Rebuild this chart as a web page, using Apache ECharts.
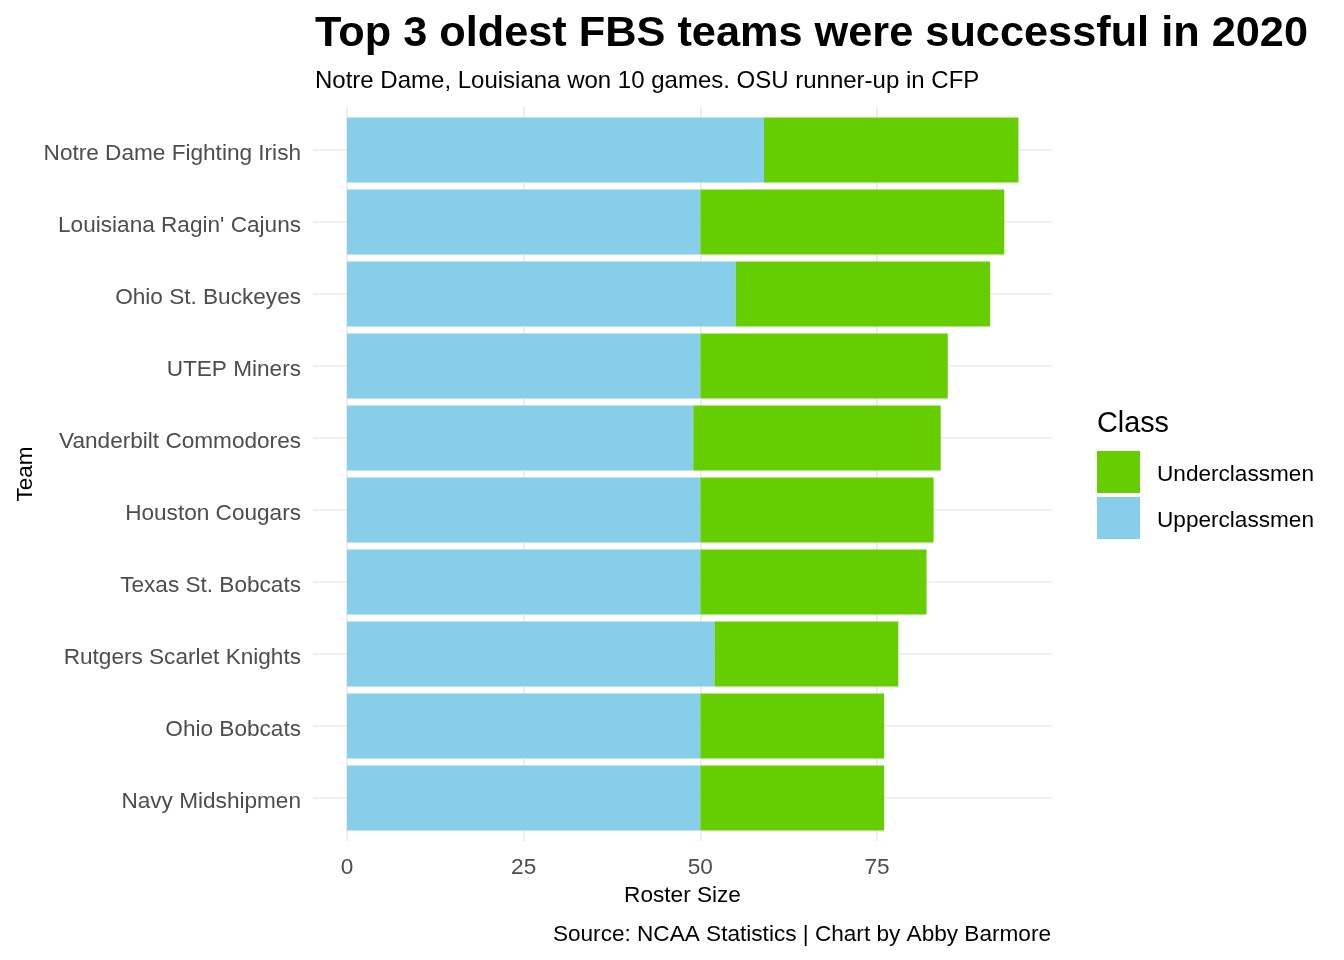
<!DOCTYPE html>
<html>
<head>
<meta charset="utf-8">
<script src="https://cdn.jsdelivr.net/npm/echarts@6/dist/echarts.min.js"></script>
<style>
html,body{margin:0;padding:0;background:#fff;}
#chart{width:1344px;height:960px;}
</style>
</head>
<body>
<div id="chart"></div>
<script>
const teams = [
  "Notre Dame Fighting Irish",
  "Louisiana Ragin' Cajuns",
  "Ohio St. Buckeyes",
  "UTEP Miners",
  "Vanderbilt Commodores",
  "Houston Cougars",
  "Texas St. Bobcats",
  "Rutgers Scarlet Knights",
  "Ohio Bobcats",
  "Navy Midshipmen"
];
const upperclassmen = [59, 50, 55, 50, 49, 50, 50, 52, 50, 50];
const underclassmen = [36, 43, 36, 35, 35, 33, 32, 26, 26, 26];
const xTicks = [0, 25, 50, 75];

const FONT = "Liberation Sans, Arial, sans-serif";
const GRID_COLOR = "#EBEBEB";
const FS = 22.6;
const chart = echarts.init(document.getElementById('chart'));

const option = {
  backgroundColor: '#ffffff',
  animation: false,
  textStyle: { fontFamily: FONT },
  title: [
    { text: 'Top 3 oldest FBS teams were successful in 2020', left: 315, top: 13, padding: 0,
      textStyle: { fontFamily: FONT, fontSize: 43.3, fontWeight: 'bold', color: '#000' } },
    { text: 'Notre Dame, Louisiana won 10 games. OSU runner-up in CFP', left: 315, top: 69, padding: 0,
      textStyle: { fontFamily: FONT, fontSize: 24, fontWeight: 'normal', color: '#000' } },
    { text: 'Source: NCAA Statistics | Chart by Abby Barmore', right: 293, top: 923, padding: 0,
      textStyle: { fontFamily: FONT, fontSize: FS, fontWeight: 'normal', color: '#000' } },
    { text: 'Class', left: 1097, top: 410, padding: 0,
      textStyle: { fontFamily: FONT, fontSize: 28.8, fontWeight: 'normal', color: '#000' } }
  ],
  legend: {
    data: ['Underclassmen', 'Upperclassmen'],
    orient: 'vertical',
    left: 1097,
    top: 451,
    padding: 0,
    itemWidth: 43,
    itemHeight: 42,
    itemGap: 4,
    icon: 'rect',
    selectedMode: false,
    formatter: '{t|{name}}',
    textStyle: {
      fontFamily: FONT, fontSize: FS, color: '#000',
      rich: { t: { fontFamily: FONT, fontSize: FS, color: '#000', padding: [6, 0, 0, 12] } }
    }
  },
  grid: [
    { left: 347, right: 292, top: 114, bottom: 126 },   // bars
    { left: 347, right: 467, top: 107, bottom: 119 },   // vertical grid lines + x labels
    { left: 313, right: 292, top: 150, bottom: 162 }    // horizontal grid lines + axis names
  ],
  xAxis: [
    { gridIndex: 0, type: 'value', min: 0, max: 99.75, show: false },
    { gridIndex: 1, type: 'value', min: xTicks[0], max: xTicks[xTicks.length - 1], interval: 25,
      axisLine: { show: false }, axisTick: { show: false },
      axisLabel: { fontFamily: FONT, fontSize: FS, color: '#4D4D4D', margin: 15 },
      splitLine: { show: true, lineStyle: { color: GRID_COLOR, width: 1.7 } } },
    { gridIndex: 2, type: 'value', min: 0, max: 1,
      axisLine: { show: false }, axisTick: { show: false }, axisLabel: { show: false },
      splitLine: { show: false },
      name: 'Roster Size', nameLocation: 'middle', nameGap: 86,
      nameTextStyle: { fontFamily: FONT, fontSize: FS, color: '#000' } }
  ],
  yAxis: [
    { gridIndex: 0, type: 'category', data: teams, inverse: true,
      axisLine: { show: false }, axisTick: { show: false },
      axisLabel: {
        fontFamily: FONT, fontSize: FS, color: '#4D4D4D', margin: 46,
        formatter: '{t|{value}}',
        rich: { t: { fontFamily: FONT, fontSize: FS, color: '#4D4D4D', padding: [8, 0, 0, 0] } }
      },
      splitLine: { show: false } },
    { gridIndex: 1, type: 'value', min: 0, max: 1, show: false },
    { gridIndex: 2, type: 'value', min: 0, max: teams.length - 1, interval: 1,
      axisLine: { show: false }, axisTick: { show: false }, axisLabel: { show: false },
      splitLine: { show: true, lineStyle: { color: GRID_COLOR, width: 1.7 } },
      name: 'Team', nameLocation: 'middle', nameGap: 276, nameRotate: 90,
      nameTextStyle: { fontFamily: FONT, fontSize: FS, color: '#000' } }
  ],
  series: [
    { name: 'Upperclassmen', type: 'bar', stack: 'roster', xAxisIndex: 0, yAxisIndex: 0,
      data: upperclassmen, barCategoryGap: '10%', itemStyle: { color: '#87CEEB' } },
    { name: 'Underclassmen', type: 'bar', stack: 'roster', xAxisIndex: 0, yAxisIndex: 0,
      data: underclassmen, barCategoryGap: '10%', itemStyle: { color: '#66CD00' } }
  ]
};
chart.setOption(option);
</script>
</body>
</html>
